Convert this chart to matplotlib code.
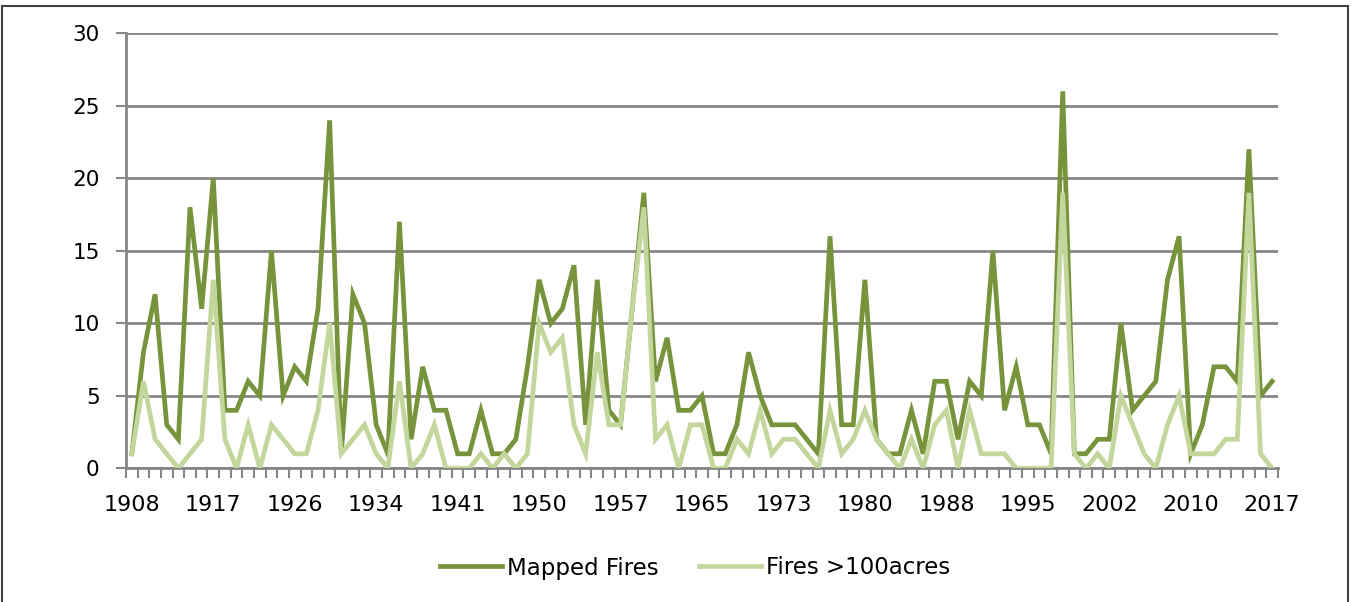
import matplotlib.pyplot as plt
import numpy as np
from matplotlib.patches import Rectangle

# Annual fire counts, one value per recorded year (99 years, 1908-2017)
mapped_fires = [
    1, 8, 12, 3, 2, 18, 11, 20, 4, 4, 6, 5, 15, 5, 7, 6, 11, 24, 1, 12,
    10, 3, 1, 17, 2, 7, 4, 4, 1, 1, 4, 1, 1, 2, 7, 13, 10, 11, 14, 3,
    13, 4, 3, 11, 19, 6, 9, 4, 4, 5, 1, 1, 3, 8, 5, 3, 3, 3, 2, 1,
    16, 3, 3, 13, 2, 1, 1, 4, 1, 6, 6, 2, 6, 5, 15, 4, 7, 3, 3, 1,
    26, 1, 1, 2, 2, 10, 4, 5, 6, 13, 16, 1, 3, 7, 7, 6, 22, 5, 6,
]
fires_over_100 = [
    1, 6, 2, 1, 0, 1, 2, 13, 2, 0, 3, 0, 3, 2, 1, 1, 4, 10, 1, 2,
    3, 1, 0, 6, 0, 1, 3, 0, 0, 0, 1, 0, 1, 0, 1, 10, 8, 9, 3, 1,
    8, 3, 3, 11, 18, 2, 3, 0, 3, 3, 0, 0, 2, 1, 4, 1, 2, 2, 1, 0,
    4, 1, 2, 4, 2, 1, 0, 2, 0, 3, 4, 0, 4, 1, 1, 1, 0, 0, 0, 0,
    19, 1, 0, 1, 0, 5, 3, 1, 0, 3, 5, 1, 1, 1, 2, 2, 19, 1, 0,
]

# Year labels shown on every 7th category
tick_years = [1908, 1917, 1926, 1934, 1941, 1950, 1957, 1965,
              1973, 1980, 1988, 1995, 2002, 2010, 2017]

dark_green = '#77933C'
light_green = '#C3D69B'
grid_gray = '#868686'

plt.rcParams['font.family'] = ['DejaVu Sans']

fig = plt.figure(figsize=(13.52, 6.02), dpi=100)
ax = fig.add_axes([126 / 1352, 1 - 468.3 / 602, 1152 / 1352, 435 / 602])

x = np.arange(len(mapped_fires))
ax.plot(x, mapped_fires, color=dark_green, lw=3.4, solid_joinstyle='miter',
        label='Mapped Fires', zorder=3)
ax.plot(x, fires_over_100, color=light_green, lw=3.4, solid_joinstyle='miter',
        label='Fires >100acres', zorder=4)

ax.set_xlim(-0.5, len(mapped_fires) - 0.5)
ax.set_ylim(0, 30)
ax.set_yticks(np.arange(0, 31, 5))

# category boundaries get tick marks, labels sit under every 7th category
ax.set_xticks(np.arange(len(mapped_fires) + 1) - 0.5, minor=True)
ax.set_xticks(np.arange(0, len(mapped_fires), 7))
ax.set_xticklabels([str(y) for y in tick_years])

ax.yaxis.grid(True, color=grid_gray, lw=2)
ax.set_axisbelow(True)
for s in ['top', 'right']:
    ax.spines[s].set_visible(False)
for s in ['left', 'bottom']:
    ax.spines[s].set_color(grid_gray)
    ax.spines[s].set_linewidth(2)

ax.tick_params(axis='y', length=7, width=1.5, color=grid_gray,
               labelsize=15.5, pad=12, labelcolor='#000000')
ax.tick_params(axis='x', which='major', length=0, labelsize=16, pad=19,
               labelcolor='#000000')
ax.tick_params(axis='x', which='minor', length=7, width=1.5,
               color=grid_gray)

fig.legend(loc='center', bbox_to_anchor=(695 / 1352, 1 - 568 / 602), ncol=2,
           frameon=False, fontsize=16.5, handlelength=2.7, handletextpad=0.22,
           columnspacing=1.75)

# outer chart border
fig.patches.append(Rectangle((2 / 1352, -0.1), 1346 / 1352, 1.1 - 6 / 602,
                             transform=fig.transFigure, fill=False,
                             edgecolor='#404040', lw=1.5))

fig.savefig('out.png', dpi=100)
plt.close(fig)
